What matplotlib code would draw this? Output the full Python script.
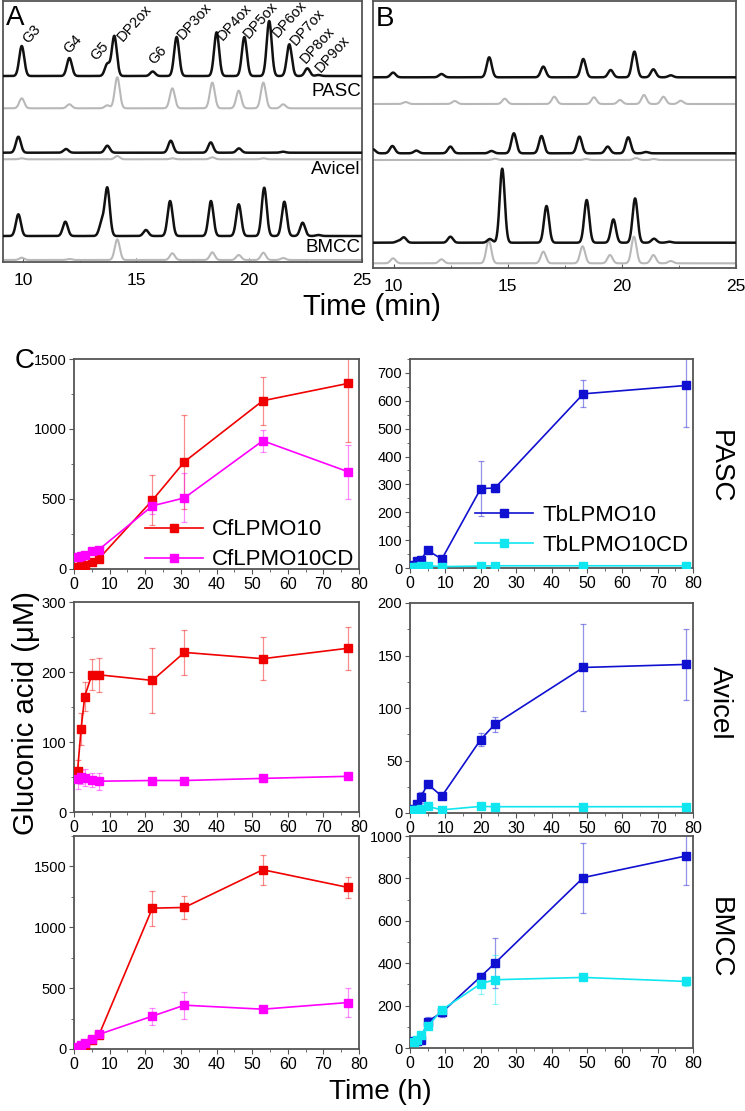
import numpy as np
import matplotlib.pyplot as plt
from matplotlib.ticker import MultipleLocator

plt.rcParams['font.family'] = ['Liberation Sans', 'DejaVu Sans']

W, H = 745, 1111

# ---------- panels A/B : peaks (retention time in min, height) ----------
a_pasc_t = [9.93, 12.04, 13.72, 14.03, 15.73, 16.79, 18.56, 19.79, 20.89, 21.78, 22.58, 23.07]
a_pasc_h = [30, 18, 12, 40, 4.5, 39, 43.7, 39, 55, 31.7, 7.7, 1]
a_pasc_ox_t = [9.93, 12.04, 13.72, 14.16, 16.6, 18.37, 19.54, 20.63, 21.51]
a_pasc_ox_h = [10, 4, 3, 31, 20, 25.7, 17.7, 25.7, 4]
a_avi_t = [9.78, 11.89, 13.72, 16.53, 18.3, 19.55, 21.5]
a_avi_h = [16, 3.7, 7, 12, 10.3, 4.3, 1]
a_avi_ox_t = [9.93, 14.16, 16.6, 18.37, 20.63]
a_avi_ox_h = [1, 3.3, 1, 2, 1]
a_bmcc_t = [9.78, 11.86, 13.47, 13.72, 15.43, 16.5, 18.31, 19.54, 20.67, 21.56, 22.37, 23.07]
a_bmcc_h = [21.7, 14.3, 13, 47.7, 6, 35, 35, 31.7, 48.3, 34.3, 13.3, 1]
a_bmcc_ox_t = [9.93, 12.04, 14.16, 16.6, 18.37, 19.54, 20.63, 21.51]
a_bmcc_ox_h = [2.3, 1, 20.7, 6.7, 7.7, 5, 7.3, 2]

b_pasc_t = [9.98, 12.1, 14.19, 16.56, 18.31, 19.51, 20.55, 21.38, 22.14]
b_pasc_h = [4.7, 3.3, 20, 10.7, 18.3, 7.3, 25.7, 8, 2]
b_pasc_ox_t = [10.53, 12.68, 14.87, 17.04, 18.78, 19.92, 20.97, 21.82, 22.58]
b_pasc_ox_h = [2, 3, 5.3, 7.3, 6.7, 4, 9, 7.3, 3.3]
b_avi_t = [9.1, 9.95, 11.0, 12.49, 14.29, 15.27, 16.48, 18.14, 19.38, 20.28, 21.06]
b_avi_h = [4, 7.3, 2.7, 6.7, 2.3, 20, 17.3, 16.7, 6.7, 16, 1.3]
b_avi_ox_t = [14.44, 18.43, 20.62, 21.4]
b_avi_ox_h = [1.3, 1, 2, 1]
b_bmcc_t = [10.2, 10.45, 12.49, 14.22, 14.76, 16.7, 18.46, 19.63, 20.58, 21.41, 22.08]
b_bmcc_h = [1.5, 5.3, 6, 3.7, 74, 36.7, 42.7, 23.3, 44.3, 4, 1]
b_bmcc_ox_t = [9.98, 12.1, 14.17, 16.56, 18.28, 19.48, 20.53, 21.38, 22.14]
b_bmcc_ox_h = [5, 4, 23, 11.7, 17, 8.3, 26.7, 8.3, 2.3]

peak_labels = ['G3', 'G4', 'G5', 'DP2ox', 'G6', 'DP3ox', 'DP4ox', 'DP5ox',
               'DP6ox', 'DP7ox', 'DP8ox', 'DP9ox']
label_t = [10.3, 12.15, 13.35, 14.5, 15.9, 17.15, 18.95, 20.1, 21.35, 22.15, 22.6, 23.25]
label_y = [216, 206, 199, 218, 195, 220, 219, 221, 222, 214, 196, 187]

substrates = ['PASC', 'Avicel', 'BMCC']

# ---------- panel C : gluconic acid (uM) vs time (h) ----------
t_cf = [1, 2, 3, 5, 7, 22, 31, 53, 77]
t_tb = [1, 2, 3, 5, 9, 20, 24, 49, 78]

cf10_pasc = [14, 22, 26, 50, 74, 491, 766, 1202, 1326]
cf10_pasc_err = [5, 5, 8, 10, 15, 180, 335, 170, 416]
cf10cd_pasc = [86, 95, 103, 129, 139, 451, 508, 916, 694]
cf10cd_pasc_err = [15, 15, 15, 20, 20, 60, 175, 80, 195]
tb10_pasc = [12, 24, 30, 63, 32, 285, 287, 625, 655]
tb10_pasc_err = [3, 5, 5, 8, 8, 98, 15, 49, 150]
tb10cd_pasc = [5, 5, 7, 8, 5, 7, 8, 8, 8]
tb10cd_pasc_err = [1, 1, 1, 1, 1, 1, 1, 1, 1]

cf10_avi = [59, 119, 165, 196, 196, 188, 228, 219, 234]
cf10_avi_err = [15, 23, 21, 22, 24, 47, 32, 31, 31]
cf10cd_avi = [47, 50, 49, 46, 44, 45, 45, 48, 51]
cf10cd_avi_err = [14, 10, 12, 10, 12, 3, 3, 5, 3]
tb10_avi = [4, 9, 15, 27.5, 16, 70, 84.5, 138.6, 141.5]
tb10_avi_err = [1, 2, 5, 2, 2, 6, 7, 41, 33.5]
tb10cd_avi = [3, 3, 4, 6.3, 3, 6.3, 6, 6, 6]
tb10cd_avi_err = [0.5, 0.5, 0.5, 0.5, 0.5, 0.5, 0.5, 0.5, 0.5]

cf10_bmcc = [10, 20, 30, 72, 115, 1157, 1163, 1473, 1327]
cf10_bmcc_err = [5, 5, 10, 15, 20, 145, 97, 125, 89]
cf10cd_bmcc = [20, 35, 50, 80, 120, 270, 360, 327, 382]
cf10cd_bmcc_err = [5, 5, 10, 15, 20, 70, 110, 15, 123]
tb10_bmcc = [31, 31, 39, 125, 168, 337, 400, 804, 906]
tb10_bmcc_err = [5, 5, 8, 20, 20, 15, 118, 165, 137]
tb10cd_bmcc = [30, 40, 63, 102, 180, 303, 322, 333, 314]
tb10cd_bmcc_err = [5, 5, 10, 10, 15, 50, 115, 10, 20]

RED, MAG, BLUE, CYAN = '#f00000', '#ff00ff', '#1010d0', '#10e6f0'
SPINE = '#555555'


def rect(l, t, r, b):
    return [l / W, 1 - b / H, (r - l) / W, (b - t) / H]


def trace(grid, ts, hs, sigma=0.11):
    y = np.zeros_like(grid)
    for t, h in zip(ts, hs):
        y += h * np.exp(-0.5 * ((grid - t) / sigma) ** 2)
    return y


fig = plt.figure(figsize=(W / 100, H / 100), dpi=100)
grid = np.linspace(9.1, 25, 3000)

# panels A and B
axA = fig.add_axes(rect(3, 1, 362, 262))
axB = fig.add_axes(rect(373, 1, 736, 268))

a_traces = [(a_pasc_t, a_pasc_h, 186, 'k'), (a_pasc_ox_t, a_pasc_ox_h, 153.7, 'g'),
            (a_avi_t, a_avi_h, 109.3, 'k'), (a_avi_ox_t, a_avi_ox_h, 102.7, 'g'),
            (a_bmcc_t, a_bmcc_h, 26, 'k'), (a_bmcc_ox_t, a_bmcc_ox_h, 2, 'g')]
b_traces = [(b_pasc_t, b_pasc_h, 190.7, 'k'), (b_pasc_ox_t, b_pasc_ox_h, 164, 'g'),
            (b_avi_t, b_avi_h, 114.7, 'k'), (b_avi_ox_t, b_avi_ox_h, 108, 'g'),
            (b_bmcc_t, b_bmcc_h, 25.3, 'k'), (b_bmcc_ox_t, b_bmcc_ox_h, 4.7, 'g')]

for ax, trs, top in [(axA, a_traces, 261), (axB, b_traces, 267)]:
    for ts, hs, off, kind in trs:
        if kind == 'k':
            ax.plot(grid, off + trace(grid, ts, hs), color='#111111', lw=1.8, zorder=3)
        else:
            ax.plot(grid, off + trace(grid, ts, hs), color='#b8b8b8', lw=1.5, zorder=2)
    ax.set_xlim(9.1, 25)
    ax.set_ylim(0, top)
    ax.set_yticks([])
    ax.set_xticks([10, 15, 20, 25])
    ax.xaxis.set_minor_locator(MultipleLocator(2.5))
    ax.tick_params(axis='x', direction='in', length=3, labelsize=12.5, pad=8,
                   color=SPINE)
    ax.tick_params(axis='x', which='minor', direction='in', length=2, color=SPINE)
    for s in ax.spines.values():
        s.set_color(SPINE)
        s.set_linewidth(1.3)

for lab, t, y in zip(peak_labels, label_t, label_y):
    axA.text(t, y, lab, rotation=48, rotation_mode='anchor', ha='left', va='bottom',
             fontsize=10.5, zorder=5)

axA.text(24.95, 171, 'PASC', ha='right', va='center', fontsize=13.5)
axA.text(24.95, 92, 'Avicel', ha='right', va='center', fontsize=13.5)
axA.text(24.95, 14, 'BMCC', ha='right', va='center', fontsize=13.5)

fig.text(15 / W, 1 - 18 / H, 'A', fontsize=20, ha='center', va='center')
fig.text(385 / W, 1 - 19 / H, 'B', fontsize=20, ha='center', va='center')
fig.text(372 / W, 1 - 307 / H, 'Time (min)', fontsize=21, ha='center', va='center')

# panel C
left_rects = [rect(74, 359, 359, 569), rect(74, 602, 359, 812), rect(74, 836, 359, 1049)]
right_rects = [rect(410, 359, 693, 568), rect(410, 603, 693, 813), rect(410, 836, 693, 1048)]

cf_series = [(cf10_pasc, cf10_pasc_err, cf10cd_pasc, cf10cd_pasc_err),
             (cf10_avi, cf10_avi_err, cf10cd_avi, cf10cd_avi_err),
             (cf10_bmcc, cf10_bmcc_err, cf10cd_bmcc, cf10cd_bmcc_err)]
tb_series = [(tb10_pasc, tb10_pasc_err, tb10cd_pasc, tb10cd_pasc_err),
             (tb10_avi, tb10_avi_err, tb10cd_avi, tb10cd_avi_err),
             (tb10_bmcc, tb10_bmcc_err, tb10cd_bmcc, tb10cd_bmcc_err)]
left_ylim = [(1500, 500), (300, 100), (1750, 500)]
right_ylim = [(750, 100), (200, 50), (1000, 200)]


def draw(ax, t, v, e, c, label):
    ax.errorbar(t, v, yerr=e, fmt='none', ecolor=c, alpha=0.45, elinewidth=0.9,
                capsize=2, capthick=0.9, zorder=2)
    return ax.plot(t, v, '-s', color=c, ms=6, lw=1.2, mec=c, label=label, zorder=3)[0]


for i in range(3):
    for ax_rect, t, ser, ylim, cols, names, anchor in [
            (left_rects[i], t_cf, cf_series[i], left_ylim[i], (RED, MAG),
             ('CfLPMO10', 'CfLPMO10CD'), (1.03, -0.07)),
            (right_rects[i], t_tb, tb_series[i], right_ylim[i], (BLUE, CYAN),
             ('TbLPMO10', 'TbLPMO10CD'), (1.03, -0.005))]:
        ax = fig.add_axes(ax_rect)
        h1 = draw(ax, t, ser[0], ser[1], cols[0], names[0])
        h2 = draw(ax, t, ser[2], ser[3], cols[1], names[1])
        ax.set_xlim(0, 80)
        ax.set_ylim(0, ylim[0])
        ax.xaxis.set_major_locator(MultipleLocator(10))
        ax.xaxis.set_minor_locator(MultipleLocator(5))
        ax.yaxis.set_major_locator(MultipleLocator(ylim[1]))
        ax.yaxis.set_minor_locator(MultipleLocator(ylim[1] / 2))
        ax.tick_params(direction='out', length=3.5, color=SPINE, pad=2)
        ax.tick_params(which='minor', direction='out', length=2, color=SPINE)
        ax.tick_params(axis='y', labelsize=10.5)
        ax.tick_params(axis='x', labelsize=11.5)
        for s in ax.spines.values():
            s.set_color(SPINE)
            s.set_linewidth(1.3)
        if i == 0:
            ax.legend(handles=[h1, h2], loc='lower right', bbox_to_anchor=anchor,
                      frameon=False, fontsize=16, handlelength=2.6, handletextpad=0.4,
                      labelspacing=0.4, borderaxespad=0.2)

for name, yc in zip(substrates, [467, 703, 938]):
    fig.text(720 / W, 1 - yc / H, name, rotation=-90, fontsize=20, ha='center', va='center')

fig.text(15 / W, 1 - 361 / H, 'C', fontsize=20, ha='left', va='center')
fig.text(26 / W, 1 - 713 / H, 'Gluconic acid (μM)', rotation=90, fontsize=21,
         ha='center', va='center')
fig.text(380 / W, 1 - 1092 / H, 'Time (h)', fontsize=20, ha='center', va='center')

fig.savefig('out.png', dpi=100)
